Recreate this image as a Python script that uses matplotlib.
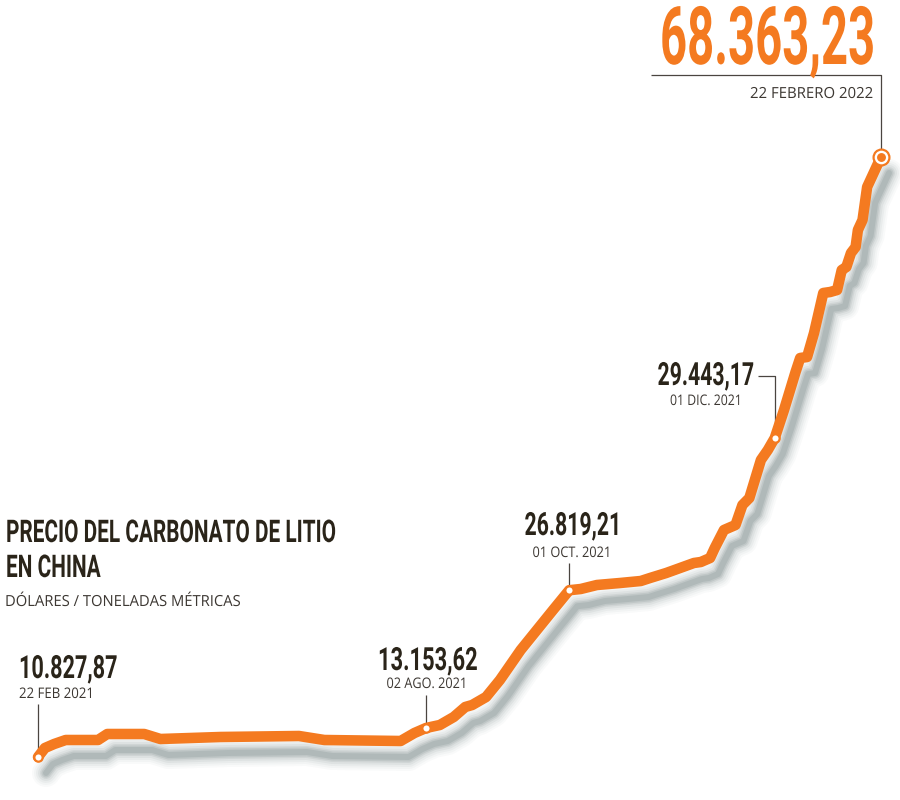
import matplotlib
matplotlib.use('Agg')
import matplotlib.pyplot as plt
import matplotlib.transforms as mtransforms
from matplotlib.patheffects import AbstractPathEffect

# ---- data (day offset from 22 Feb 2021, price in USD/t as drawn) ----
days = [0, 3, 7, 12, 26, 30, 46, 53, 79, 113, 124, 157, 163, 168, 174, 180,
        185, 188, 194, 200, 209, 216, 223, 230, 235, 242, 252, 261, 265, 272,
        278, 284, 287, 291, 293, 297, 302, 305, 308, 313, 316, 319, 323, 328,
        330, 333, 336, 340, 343, 346, 348, 350, 352, 354, 355, 357, 359, 361, 365]
prices = [10828, 11691, 12074, 12458, 12458, 13033, 13033, 12554, 12746, 12842,
          12458, 12362, 13129, 13609, 13897, 14664, 15623, 15814, 16581, 18212,
          21088, 23006, 24924, 26819, 26938, 27321, 27513, 27705, 27992, 28472,
          28951, 29431, 29527, 29910, 30869, 32595, 33075, 34992, 35664, 39308,
          40267, 41417, 44102, 47746, 49088, 49184, 51486, 55321, 55417, 55609,
          57527, 57814, 59157, 59732, 61363, 62321, 65486, 66445, 68363]

label_values = ['10.827,87', '13.153,62', '26.819,21', '29.443,17', '68.363,23']
label_dates = ['22 FEB 2021', '02 AGO. 2021', '01 OCT. 2021', '01 DIC. 2021', '22 FEBRERO 2022']
label_idx = [0, 13, 23, 41, 58]

title_lines = ['PRECIO DEL CARBONATO DE LITIO', 'EN CHINA']
subtitle = 'DÓLARES / TONELADAS MÉTRICAS'

# ---- style ----
ORANGE = '#f47a20'
DARK = '#2a2419'
GREY_TXT = '#3d3833'
LEADER = '#4a4540'
COND = 'Roboto'
REG = 'Open Sans'


class HScale(AbstractPathEffect):
    """Horizontally condense the glyph outlines around an anchor x (display px)."""
    def __init__(self, sx, x0):
        super().__init__()
        self.sx, self.x0 = sx, x0

    def draw_path(self, renderer, gc, tpath, affine, rgbFace=None):
        t = affine + mtransforms.Affine2D().translate(-self.x0, 0).scale(self.sx, 1).translate(self.x0, 0)
        renderer.draw_path(gc, tpath, t, rgbFace)


W, H = 900, 800
fig = plt.figure(figsize=(9, 8), dpi=100)
ax = fig.add_axes([0, 0, 1, 1])
ax.axis('off')
sx = 365 / 843.0
ax.set_xlim(-38 * sx, (W - 38) * sx)
sy = 95.892
ax.set_ylim(10827.87 - (H - 757) * sy, 10827.87 + 757 * sy)

# shadow
off = mtransforms.offset_copy(ax.transData, fig=fig, x=8, y=-16, units='dots')
for w, a in [(28, 0.035), (24, 0.045), (20, 0.06), (16, 0.08), (12, 0.11), (9, 0.14), (6, 0.16)]:
    ax.plot(days, prices, color='#5f7272', lw=w * 0.72, alpha=a, transform=off,
            solid_capstyle='round', solid_joinstyle='round', zorder=1)

# main line
ax.plot(days, prices, color=ORANGE, lw=7.6, solid_capstyle='round',
        solid_joinstyle='round', zorder=3)


def P(px, py):
    return ax.transData.inverted().transform((px, H - py))


def leader(pts):
    xs, ys = zip(*[P(*p) for p in pts])
    ax.plot(xs, ys, color=LEADER, lw=0.9, zorder=2, solid_capstyle='butt')


def dpx(i):
    d = ax.transData.transform((days[i], prices[i]))
    return d[0], H - d[1]


x0, y0 = dpx(label_idx[0]); leader([(x0, 704), (x0, y0)])
x1, y1 = dpx(label_idx[1]); leader([(x1, 695), (x1, y1)])
x2, y2 = dpx(label_idx[2]); leader([(x2, 563), (x2, y2)])
x3, y3 = dpx(label_idx[3]); leader([(758, 376), (x3, 376), (x3, y3)])
x4, y4 = dpx(label_idx[4]); leader([(651, 75), (x4, 75), (x4, y4)])

# markers
for i in label_idx[:4]:
    ax.plot(days[i], prices[i], 'o', ms=6, mfc='white', mec=ORANGE, mew=1.6, zorder=4)
i = label_idx[4]
ax.plot(days[i], prices[i], 'o', ms=13, mfc=ORANGE, mec='none', zorder=4)
ax.plot(days[i], prices[i], 'o', ms=9.8, mfc='white', mec='none', zorder=5)
ax.plot(days[i], prices[i], 'o', ms=6.4, mfc=ORANGE, mec='none', zorder=6)

texts = []


def T(px, py, s, target=None, **kw):
    t = fig.text(px / W, 1 - py / H, s, va='baseline', **kw)
    texts.append((t, px, target))
    return t


num_kw = dict(fontsize=23, fontweight='bold', family=COND, color=DARK)
date_kw = dict(fontsize=10.5, family=REG, color=GREY_TXT)

# title block
t_title = T(6, 542, title_lines[0], target=330, fontsize=22.5, fontweight='bold', family=COND,
            color=DARK, ha='left')
t_title2 = T(6, 577, title_lines[1], target=None, fontsize=22.5, fontweight='bold', family=COND,
             color=DARK, ha='left')
T(5, 606, subtitle, target=235, fontsize=11, family=REG, color=GREY_TXT, ha='left')

# labels
T(19, 678, label_values[0], target=99, ha='left', **num_kw)
T(19, 698, label_dates[0], target=75, ha='left', **date_kw)
T(428, 670, label_values[1], target=100, ha='center', **num_kw)
T(427, 688, label_dates[1], target=81, ha='center', **date_kw)
T(573, 535, label_values[2], target=97, ha='center', **num_kw)
T(572, 557, label_dates[2], target=79, ha='center', **date_kw)
T(706, 385, label_values[3], target=97, ha='center', **num_kw)
T(706, 405, label_dates[3], target=72, ha='center', **date_kw)

T(875, 64, label_values[4], target=215, ha='right', fontsize=58, fontweight='bold',
  family=COND, color=ORANGE)
T(873, 98, label_dates[4], target=123, ha='right', fontsize=11, family=REG, color=GREY_TXT)

fig.canvas.draw()
r = fig.canvas.get_renderer()
title_scale = 1.0
for t, px, target in texts:
    if target:
        w = t.get_window_extent(r).width
        s = target / w
        t.set_path_effects([HScale(s, px)])
        if t is t_title:
            title_scale = s
t_title2.set_path_effects([HScale(title_scale, 6)])

fig.savefig('out.png', dpi=100, facecolor='white')
